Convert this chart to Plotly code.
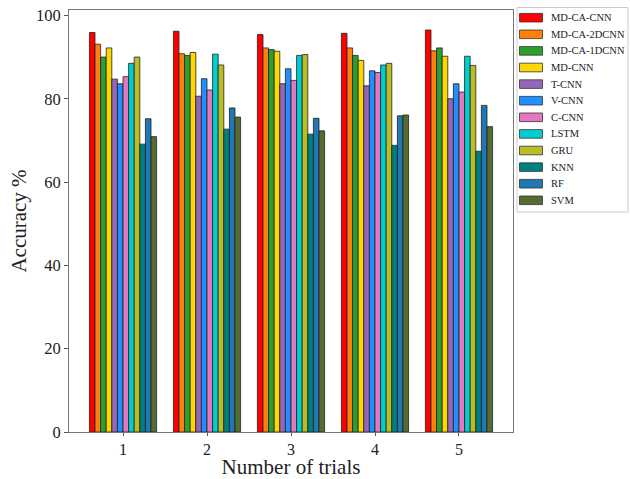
import plotly.graph_objects as go

trials = ["1", "2", "3", "4", "5"]
models = ["MD-CA-CNN", "MD-CA-2DCNN", "MD-CA-1DCNN", "MD-CNN", "T-CNN", "V-CNN",
          "C-CNN", "LSTM", "GRU", "KNN", "RF", "SVM"]
colors = ["#ff0000", "#ff7f0e", "#2ca02c", "#ffd700", "#9467bd", "#1e90ff",
          "#e377c2", "#00ced1", "#bcbd22", "#008080", "#1f77b4", "#556b2f"]

mdcacnn   = [95.9, 96.2, 95.4, 95.7, 96.5]
mdca2dcnn = [93.1, 90.8, 92.2, 92.2, 91.5]
mdca1dcnn = [90.0, 90.4, 91.8, 90.4, 92.2]
mdcnn     = [92.2, 91.1, 91.4, 89.2, 90.2]
tcnn      = [84.7, 80.6, 83.6, 83.1, 80.0]
vcnn      = [83.6, 84.8, 87.2, 86.7, 83.6]
ccnn      = [85.3, 82.1, 84.4, 86.3, 81.6]
lstm      = [88.5, 90.7, 90.4, 88.1, 90.2]
gru       = [90.0, 88.1, 90.6, 88.5, 88.0]
knn       = [69.1, 72.7, 71.5, 68.8, 67.4]
rf        = [75.2, 77.8, 75.3, 75.9, 78.4]
svm       = [70.9, 75.6, 72.3, 76.1, 73.3]

series = [mdcacnn, mdca2dcnn, mdca1dcnn, mdcnn, tcnn, vcnn, ccnn, lstm, gru, knn, rf, svm]

W, H = 630, 479
# plot area in page pixels: left 69, right 513, top 10, bottom 432
ML, MT = 69, 10
MR = W - 513
MB = H - 432
PW, PH = W - ML - MR, H - MT - MB

def px_x(p):  # page pixel -> paper x
    return (p - ML) / PW

def px_y(p):  # page pixel -> paper y
    return (H - MB - p) / PH

fig = go.Figure()
for name, vals, c in zip(models, series, colors):
    fig.add_trace(go.Bar(x=trials, y=vals, name=name,
                         marker=dict(color=c, line=dict(color="#222222", width=0.8))))

serif = "Liberation Serif, Times New Roman, serif"

# legend box with wide rectangular swatches like the reference
shapes = [dict(type="rect", xref="paper", yref="paper",
               x0=px_x(517), x1=px_x(628), y0=px_y(212), y1=px_y(7.5),
               line=dict(color="#cccccc", width=1), fillcolor="white", layer="above")]
annotations = []
for i, (name, c) in enumerate(zip(models, colors)):
    cy = 17.7 + i * 16.6
    shapes.append(dict(type="rect", xref="paper", yref="paper",
                       x0=px_x(519.5), x1=px_x(542.5), y0=px_y(cy + 4.3), y1=px_y(cy - 4.3),
                       line=dict(color="#333333", width=0.8), fillcolor=c, layer="above"))
    annotations.append(dict(xref="paper", yref="paper", x=px_x(549), y=px_y(cy),
                            xanchor="left", yanchor="middle", text=name, showarrow=False,
                            font=dict(family=serif, size=10.5, color="#222222")))

fig.update_layout(
    width=W, height=H,
    margin=dict(l=ML, r=MR, t=MT, b=MB),
    barmode="group", bargap=0.2, bargroupgap=0,
    showlegend=False,
    plot_bgcolor="white", paper_bgcolor="white",
    font=dict(family=serif, color="#222222"),
    shapes=shapes, annotations=annotations,
    xaxis=dict(title=dict(text="Number of trials", font=dict(size=21), standoff=3),
               range=[-0.643, 4.643],
               tickfont=dict(size=16), showline=True, mirror=True, linecolor="#777777",
               linewidth=1, ticks="outside", ticklen=3, tickcolor="#555555",
               automargin=False, ticklabeloverflow="allow"),
    yaxis=dict(title=dict(text="Accuracy %", font=dict(size=21), standoff=3),
               range=[0, 101.3], tickvals=[0, 20, 40, 60, 80, 100],
               tickfont=dict(size=16.5), showline=True, mirror=True, linecolor="#777777",
               linewidth=1, ticks="outside", ticklen=4, tickcolor="#555555",
               showgrid=False, zeroline=False, automargin=False,
               ticklabeloverflow="allow"),
)
fig.write_html("out.html", config={"displayModeBar": False},
               post_script="document.body.style.margin='0';document.body.style.overflow='hidden';")
